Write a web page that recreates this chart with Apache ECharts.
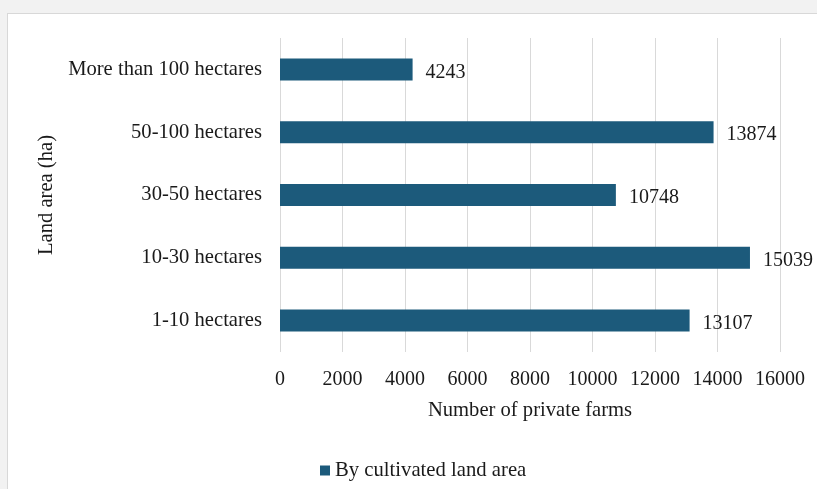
<!DOCTYPE html>
<html>
<head>
<meta charset="utf-8">
<script src="https://cdn.jsdelivr.net/npm/echarts@6/dist/echarts.min.js"></script>
<style>
  html, body { margin: 0; padding: 0; width: 817px; height: 489px; overflow: hidden; background: #f2f2f2; }
  #panel { position: absolute; left: 7px; top: 13px; width: 820px; height: 490px; background: #ffffff; border: 1px solid #d8d8d8; }
  #chart { position: absolute; left: 0; top: 0; width: 817px; height: 489px; }
</style>
</head>
<body>
<div id="panel"></div>
<div id="chart"></div>
<script>
// Land area groups, listed bottom to top
const categories = ['1-10 hectares', '10-30 hectares', '30-50 hectares', '50-100 hectares', 'More than 100 hectares'];
const farmCounts = [13107, 15039, 10748, 13874, 4243];
const xTicks = { min: 0, max: 16000, interval: 2000 };

const serif = '"Liberation Serif", "Times New Roman", serif';
const textColor = '#1a1a1a';

const chart = echarts.init(document.getElementById('chart'), null, { renderer: 'canvas' });
chart.setOption({
  backgroundColor: 'transparent',
  animation: false,
  textStyle: { fontFamily: serif, color: textColor },
  grid: { left: 280, right: 37, top: 38, bottom: 137, containLabel: false },
  legend: {
    data: ['By cultivated land area'],
    left: 315, top: 455,
    itemWidth: 10, itemHeight: 10, itemGap: 3,
    icon: 'rect',
    textStyle: { fontFamily: serif, fontSize: 20.7, color: textColor }
  },
  xAxis: {
    type: 'value',
    min: xTicks.min, max: xTicks.max, interval: xTicks.interval,
    name: 'Number of private farms',
    nameLocation: 'middle',
    nameGap: 48,
    nameTextStyle: { fontFamily: serif, fontSize: 20.6, color: textColor },
    axisLine: { show: false },
    axisTick: { show: false },
    axisLabel: {
      fontFamily: serif, fontSize: 20, color: textColor, margin: 18,
      formatter: v => String(v)
    },
    splitLine: { show: true, lineStyle: { color: '#d9d9d9', width: 1 } }
  },
  yAxis: {
    type: 'category',
    data: categories,
    name: 'Land area (ha)',
    nameLocation: 'middle',
    nameGap: 222,
    nameRotate: 90,
    nameTextStyle: { fontFamily: serif, fontSize: 20.6, color: textColor },
    axisLine: { show: false },
    axisTick: { show: false },
    axisLabel: { fontFamily: serif, fontSize: 20.6, color: textColor, margin: 18 }
  },
  series: [{
    name: 'By cultivated land area',
    type: 'bar',
    data: farmCounts,
    barWidth: 22,
    itemStyle: { color: '#1c5a7b' },
    label: {
      show: true, position: 'right', distance: 13, offset: [0, 3],
      fontFamily: serif, fontSize: 20, color: textColor
    }
  }]
});
</script>
</body>
</html>
